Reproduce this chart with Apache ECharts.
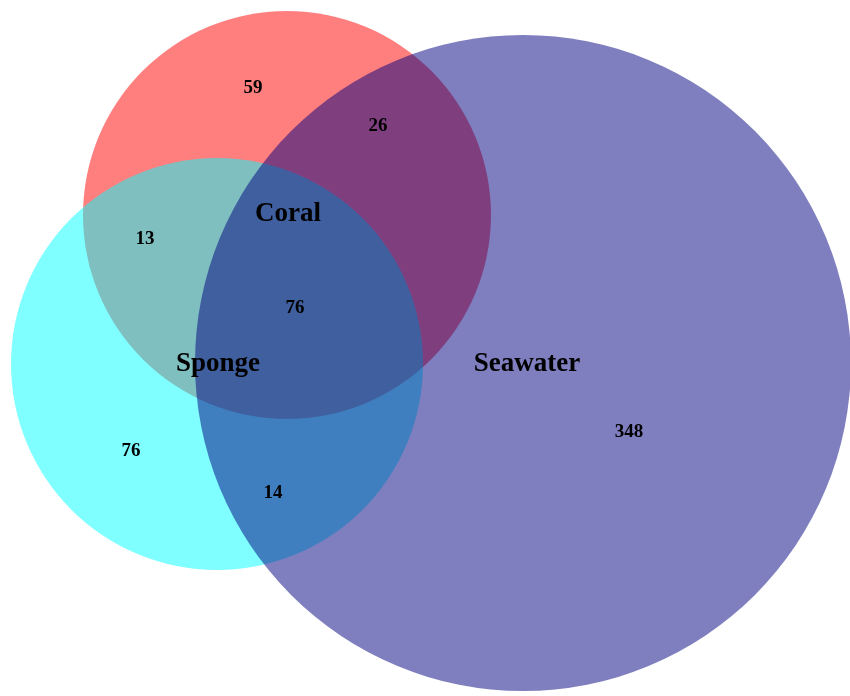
<!DOCTYPE html>
<html>
<head>
<meta charset="utf-8">
<script src="https://cdn.jsdelivr.net/npm/echarts@6/dist/echarts.min.js"></script>
<style>
  html, body { margin: 0; padding: 0; background: #fff; }
  #chart { width: 850px; height: 696px; }
</style>
</head>
<body>
<div id="chart"></div>
<script>
// 集合名称与各区域计数
const setNames = ['Coral', 'Sponge', 'Seawater'];
const setColors = ['rgba(255,0,0,0.5)', 'rgba(0,255,255,0.5)', 'rgba(0,0,128,0.5)'];
const regionNames = ['Coral only', 'Coral & Seawater', 'Coral & Sponge', 'All three',
    'Sponge only', 'Sponge & Seawater', 'Seawater only'];
const regionCounts = [59, 26, 13, 76, 76, 14, 348];

// 布局（像素坐标，y 轴向下）
const circleLayout = [[287, 215, 204], [217, 364, 206], [523, 363, 328]];
const setLabelPos = [[288, 214], [218, 364], [527, 364]];
const regionLabelPos = [[253, 88], [378, 126], [145, 239], [295, 308], [131, 451], [273, 493], [629, 432]];

const FONT = '"Liberation Serif", "Times New Roman", serif';

function initVenn() {
    const chart = echarts.init(document.getElementById('chart'));

    const circleData = setNames.map((name, i) => ({
        name: name,
        value: circleLayout[i],
        itemStyle: { color: setColors[i] }
    }));
    const setLabelData = setNames.map((name, i) => ({ name: name, value: setLabelPos[i] }));
    const regionData = regionCounts.map((c, i) => ({
        name: regionNames[i],
        value: regionLabelPos[i].concat([c])
    }));

    chart.setOption({
        animation: false,
        backgroundColor: '#fff',
        grid: { left: 0, right: 0, top: 0, bottom: 0 },
        xAxis: { type: 'value', min: 0, max: 850, show: false },
        yAxis: { type: 'value', min: 0, max: 696, inverse: true, show: false },
        series: [
            {
                type: 'custom',
                data: circleData,
                renderItem: (params, api) => {
                    const c = api.coord([api.value(0), api.value(1)]);
                    const r = api.size([api.value(2), 0])[0];
                    return {
                        type: 'circle',
                        shape: { cx: c[0], cy: c[1], r: r },
                        style: { fill: api.visual('color') }
                    };
                }
            },
            {
                type: 'custom',
                data: setLabelData,
                z: 5,
                renderItem: (params, api) => {
                    const c = api.coord([api.value(0), api.value(1)]);
                    return {
                        type: 'text',
                        x: c[0], y: c[1],
                        style: {
                            text: setNames[params.dataIndex],
                            font: 'bold 27px ' + FONT,
                            fill: '#000',
                            align: 'center',
                            verticalAlign: 'middle'
                        }
                    };
                }
            },
            {
                type: 'custom',
                data: regionData,
                z: 5,
                renderItem: (params, api) => {
                    const c = api.coord([api.value(0), api.value(1)]);
                    return {
                        type: 'text',
                        x: c[0], y: c[1],
                        style: {
                            text: String(api.value(2)),
                            font: 'bold 19px ' + FONT,
                            fill: '#000',
                            align: 'center',
                            verticalAlign: 'middle'
                        }
                    };
                }
            }
        ]
    });
}

initVenn();
</script>
</body>
</html>
